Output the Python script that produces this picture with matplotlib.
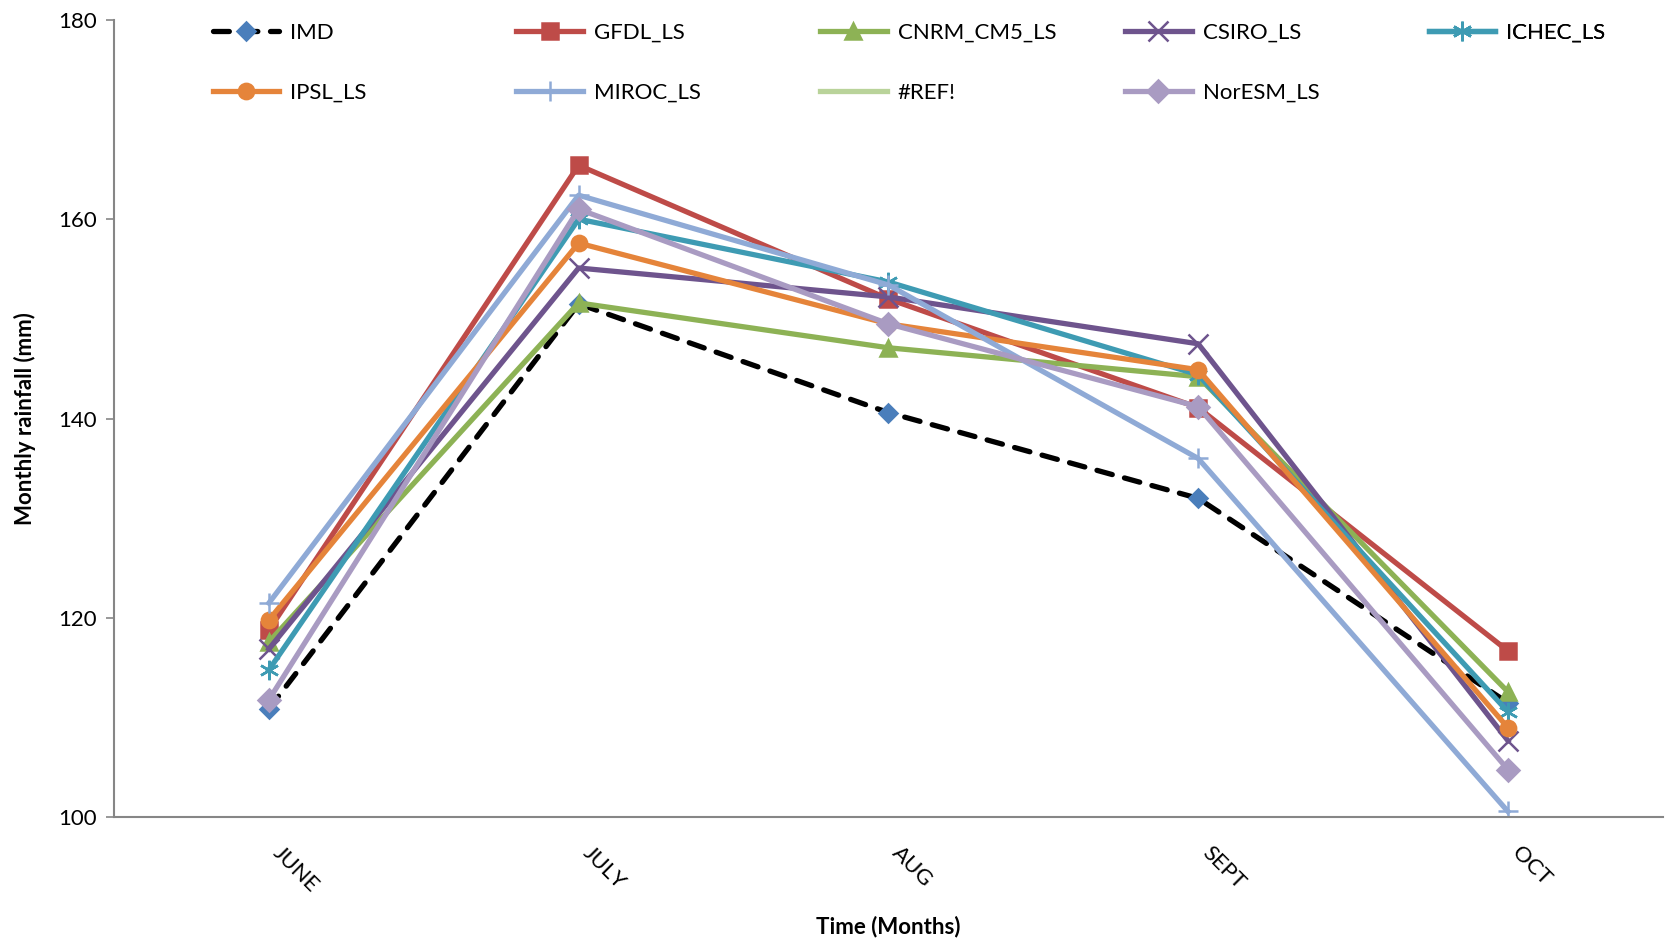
import numpy as np
import matplotlib
matplotlib.use("Agg")
import matplotlib.pyplot as plt
from matplotlib.transforms import ScaledTranslation

plt.rcParams['font.family'] = ['Lato', 'DejaVu Sans']

months = ["JUNE", "JULY", "AUG", "SEPT", "OCT"]

imd = [110.9, 151.5, 140.6, 132.0, 111.5]
gfdl = [118.8, 165.4, 152.0, 141.1, 116.7]
cnrm = [117.6, 151.6, 147.1, 144.2, 112.6]
csiro = [116.9, 155.1, 152.2, 147.5, 107.7]
ichec = [114.8, 160.0, 153.7, 144.4, 110.6]
ipsl = [119.8, 157.6, 149.5, 144.9, 109.0]
miroc = [121.5, 162.4, 153.4, 136.0, 100.6]
ref_err = [np.nan] * 5
noresm = [111.8, 161.0, 149.5, 141.2, 104.8]

series = [
    ("IMD", imd, "black", "D", "#4A7EBB", "--"),
    ("GFDL_LS", gfdl, "#BE4B48", "s", "#BE4B48", "-"),
    ("CNRM_CM5_LS", cnrm, "#8DB255", "^", "#8DB255", "-"),
    ("CSIRO_LS", csiro, "#6E548D", "x", "#6E548D", "-"),
    ("ICHEC_LS", ichec, "#3E9BB3", (6, 2, 0), "#3E9BB3", "-"),
    ("IPSL_LS", ipsl, "#E5843A", "o", "#E5843A", "-"),
    ("MIROC_LS", miroc, "#8FAAD6", "+", "#8FAAD6", "-"),
    ("#REF!", ref_err, "#B9D39A", "", "#B9D39A", "-"),
    ("NorESM_LS", noresm, "#A99BC2", "D", "#A99BC2", "-"),
]

fig = plt.figure(figsize=(16.69, 9.38), dpi=100)
ax = fig.add_axes([0.0683, 0.1285, 0.928, 0.8505])

x = np.arange(len(months))
handles = []
for name, vals, col, mk, mcol, ls in series:
    ms = 11 if mk in ("D", "s", "o", "^") else 14
    if name == "IMD":
        ms = 9
    ln, = ax.plot(x, vals, color=col, linestyle=ls, linewidth=3.8,
                  marker=mk if mk else None, markersize=ms,
                  markerfacecolor=mcol, markeredgecolor=mcol,
                  markeredgewidth=1.8, label=name,
                  dash_capstyle="round",
                  dashes=(3, 2.4) if ls == "--" else (None, None))
    handles.append(ln)

ax.set_xlim(-0.5, 4.5)
ax.set_ylim(100, 180)
ax.set_yticks([100, 120, 140, 160, 180])
ax.set_xticks(x)
ax.set_xticklabels(months, rotation=-45, ha="left", va="top",
                   rotation_mode="default")
shift = ScaledTranslation(-12 / 100, 0, fig.dpi_scale_trans)
for lbl in ax.get_xticklabels():
    lbl.set_transform(lbl.get_transform() + shift)
ax.tick_params(axis="x", length=0, pad=18, labelsize=16)
ax.tick_params(axis="y", length=6, width=1.2, color="#868686", labelsize=16, pad=6)

for s in ("top", "right"):
    ax.spines[s].set_visible(False)
for s in ("left", "bottom"):
    ax.spines[s].set_color("#868686")
    ax.spines[s].set_linewidth(1.5)

ax.set_ylabel("Monthly rainfall (mm)", fontsize=16, fontweight="bold", labelpad=16)
ax.set_xlabel("Time (Months)", fontsize=16, fontweight="bold", labelpad=14)

# legend laid out in 5 evenly spaced columns, two rows
col_x = [0.058, 0.254, 0.450, 0.647, 0.843]
for c in range(5):
    hs = [handles[c]]
    if c + 5 < len(handles):
        hs.append(handles[c + 5])
    leg = ax.legend(handles=hs, loc="upper left", bbox_to_anchor=(col_x[c], 1.007),
                    frameon=False, fontsize=16, handlelength=3.0,
                    labelspacing=1.8, handletextpad=0.5, borderaxespad=0)
    ax.add_artist(leg)

fig.savefig("out.png", dpi=100)
